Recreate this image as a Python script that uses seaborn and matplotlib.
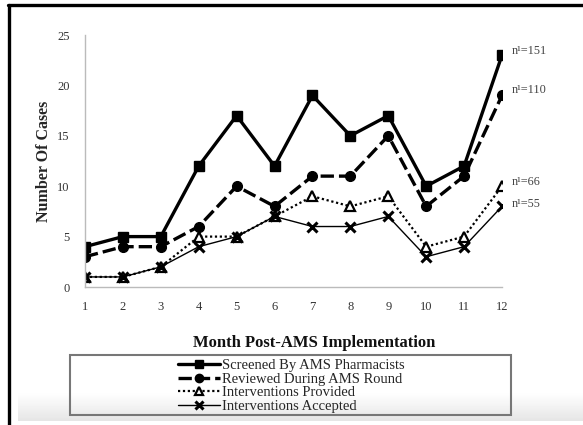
import numpy as np
import pandas as pd
import matplotlib
matplotlib.use("Agg")
import matplotlib.pyplot as plt
import seaborn as sns
from matplotlib.lines import Line2D
from matplotlib.patches import Rectangle

# Data
months = list(range(1, 13))
screened = [4, 5, 5, 12, 17, 12, 19, 15, 17, 10, 12, 23]
reviewed = [3, 4, 4, 6, 10, 8, 11, 11, 15, 8, 11, 19]
provided = [1, 1, 2, 5, 5, 7, 9, 8, 9, 4, 5, 10]
accepted = [1, 1, 2, 4, 5, 7, 6, 6, 7, 3, 4, 8]
series_names = ["Screened By AMS Pharmacists", "Reviewed During AMS Round",
                "Interventions Provided", "Interventions Accepted"]
n_labels = ["n\u00b9=151", "n\u00b9=110", "n\u00b9=66", "n\u00b9=55"]

sns.set_style("white")
plt.rcParams['font.family'] = ['Liberation Serif', 'DejaVu Serif']

W, H = 583, 425
fig = plt.figure(figsize=(W / 100, H / 100), dpi=100)
ax = fig.add_axes([85 / W, 1 - 287 / H, (502 - 85) / W, (287 - 35) / H])

styles = [
    dict(ls="-", lw=2.4, marker="s", ms=7, mfc="black", mec="black", mew=1),
    dict(ls=(0, (4, 1.5)), lw=2.4, marker="o", ms=7, mfc="black", mec="black", mew=1),
    dict(ls=(0, (1, 1.2)), lw=1.6, marker="^", ms=7, mfc="white", mec="black", mew=1.6),
    dict(ls="-", lw=1.0, marker="x", ms=7, mfc="black", mec="black", mew=2.2),
]
all_vals = [screened, reviewed, provided, accepted]

handles = []
for name, vals, st in zip(series_names, all_vals, styles):
    df = pd.DataFrame({"Month": months, "Cases": vals})
    sns.lineplot(data=df, x="Month", y="Cases", ax=ax, color="black",
                 linestyle=st["ls"], linewidth=st["lw"], marker=st["marker"],
                 markersize=st["ms"], markerfacecolor=st["mfc"],
                 markeredgecolor=st["mec"], markeredgewidth=st["mew"])
    handles.append(Line2D([], [], color="black", linestyle=st["ls"], linewidth=st["lw"],
                          marker=st["marker"], markersize=st["ms"] - 1,
                          markerfacecolor=st["mfc"], markeredgecolor=st["mec"],
                          markeredgewidth=st["mew"]))

offsets = [(7, 3), (7, 4), (7, 3), (7, 2)]
for vals, lab, off in zip(all_vals, n_labels, offsets):
    ax.annotate(lab, xy=(12, vals[-1]), xytext=off, textcoords="offset points",
                fontsize=8.8, color="#444444", va="center", ha="left")

ax.set_xlim(1, 12)
ax.set_ylim(0, 25)
ax.set_xticks(months)
ax.set_yticks([0, 5, 10, 15, 20, 25])
ax.tick_params(axis="both", labelsize=9, colors="#bbbbbb", labelcolor="#333333",
               length=3, width=0.8)
ax.tick_params(axis="x", direction="inout", length=4, pad=8)
ax.tick_params(axis="y", pad=8)
for s in ["top", "right"]:
    ax.spines[s].set_visible(False)
for s in ["left", "bottom"]:
    ax.spines[s].set_color("#bbbbbb")
    ax.spines[s].set_linewidth(1.0)
ax.set_xlabel("")
ax.set_ylabel("Number Of Cases", fontsize=11.5, fontweight="bold")
ax.yaxis.set_label_coords(-33 / (502 - 85), 0.5)

fig.text(314 / W, 1 - 343 / H, "Month Post-AMS Implementation", ha="center", va="center",
         fontsize=12, fontweight="bold", color="#111111")

# legend box and entries
fig.patches.append(Rectangle((70 / W, 1 - 415 / H), (511 - 70) / W, 60 / H,
                             transform=fig.transFigure, fill=False,
                             edgecolor="#777777", linewidth=1.5))
fig.legend(handles, series_names, loc="center", bbox_to_anchor=(291 / W, 1 - 386 / H),
           frameon=False, fontsize=10.5, handlelength=2.9, labelspacing=0.02,
           handletextpad=0.1, borderpad=0)

# bottom shading
grad = np.linspace(1.0, 0.9, 50).reshape(-1, 1)
gax = fig.add_axes([18 / W, 1 - 421 / H, 1 - 18 / W, 28 / H], zorder=-5)
gax.imshow(grad, aspect="auto", cmap="gray", vmin=0, vmax=1, extent=[0, 1, 0, 1])
gax.axis("off")

# image border
fig.add_artist(Line2D([8 / W, 1], [1 - 5 / H, 1 - 5 / H], color="black", lw=2.4,
                      transform=fig.transFigure))
fig.add_artist(Line2D([9 / W, 9 / W], [0, 1 - 5 / H], color="black", lw=2.4,
                      transform=fig.transFigure))

fig.savefig("out.png", dpi=100)
